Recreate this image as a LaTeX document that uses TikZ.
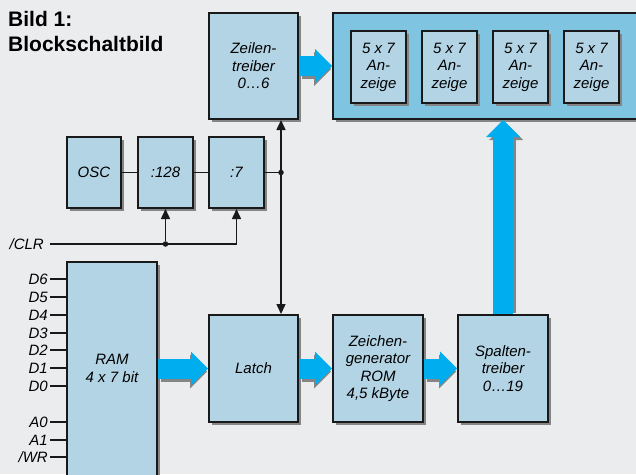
\documentclass[tikz,border=0pt]{standalone}
\usepackage{fontspec}
\setmainfont{Liberation Sans}
\usetikzlibrary{arrows.meta,shadows,calc}
\definecolor{bgc}{HTML}{EBECEE}
\definecolor{boxc}{HTML}{B3D4E5}
\definecolor{dispc}{HTML}{7FC4E1}
\definecolor{arrc}{HTML}{00AEEF}
\definecolor{shc}{HTML}{858585}
\begin{document}
\begin{tikzpicture}[x=1pt,y=-1pt,
  blk/.style={draw=black!90, line width=2pt, fill=boxc, inner sep=0pt, align=center,
    font=\itshape\fontsize{15}{17.5}\selectfont,
    drop shadow={shadow xshift=3pt, shadow yshift=-3pt, fill=shc, opacity=1}},
  txt/.style={inner sep=0pt, align=center, font=\itshape\fontsize{15}{17.5}\selectfont},
  lbl/.style={inner sep=0pt, font=\itshape\fontsize{15}{17.5}\selectfont, text height=10.5pt, text depth=0pt},
  sig/.style={draw=black!90, line width=1.5pt},
  tip/.style={-{Triangle[length=10pt,width=9pt]}},
  fat/.style={draw=arrc, line width=20pt, -{Triangle[length=17pt,width=34pt,line width=0pt]}},
  fatsh/.style={fat, draw=shc},
  dot/.style={circle, fill=black!90, inner sep=0pt, minimum size=5.5pt}]
\fill[bgc] (0,0) rectangle (636,474);
\useasboundingbox (0,0) rectangle (636,474);

\node[anchor=north west, inner sep=0pt, align=left, font=\bfseries\fontsize{21}{25}\selectfont] (title) at (8,11.5) {Bild 1:\\Blockschaltbild};

% blocks
\node[blk, minimum width=89pt, minimum height=106pt] (zt) at (253.5,66) {Zeilen-\\treiber\\0…6};
\node[blk, fill=dispc, minimum width=317pt, minimum height=106pt] (disp) at (491.5,66) {};
\foreach \i/\x in {1/378.5,2/449.5,3/520.5,4/591.5}
  \node[blk, minimum width=55pt, minimum height=72pt] (a\i) at (\x,67) {5 x 7\\An-\\zeige};
\node[blk, minimum width=54pt, minimum height=71pt] (osc) at (94,172.5) {OSC};
\node[blk, minimum width=55pt, minimum height=71pt] (d128) at (165.5,172.5) {:128};
\node[blk, minimum width=55pt, minimum height=71pt] (d7) at (236.5,172.5) {:7};
\node[blk, minimum width=90pt, minimum height=236pt] (ram) at (112,380) {};
\node[blk, minimum width=89pt, minimum height=107pt] (latch) at (253.5,368.5) {Latch};
\node[txt] (ramt) at (ram.center |- latch.center) {RAM\\4 x 7 bit};
\node[blk, minimum width=90pt, minimum height=107pt] (zg) at (378,368.5) {Zeichen-\\generator\\ROM\\4,5 kByte};
\node[blk, minimum width=90pt, minimum height=107pt] (sp) at (503,368.5) {Spalten-\\treiber\\0…19};

% signal lines
\draw[sig] (osc.east) -- (d128.west);
\draw[sig] (d128.east) -- (d7.west);
\coordinate (j) at (281,172.5);
\draw[sig] (d7.east) -- (j);
\node[dot] (jd) at (j) {};
\draw[sig,tip] (j) -- (j |- zt.south);
\draw[sig,tip] (j) -- (j |- latch.north);

\coordinate (clr) at (50,244);
\node[lbl, anchor=east] (clrl) at (44,244) {/CLR};
\draw[sig,tip] (clr) -- (clr -| d7.south) -- (d7.south);
\node[dot] (cd) at (clr -| d128.south) {};
\draw[sig,tip] (cd) -- (d128.south);

% RAM pins
\foreach \k/\n/\y in {1/D6/279,2/D5/297,3/D4/315,4/D3/333,5/D2/350,6/D1/368,7/D0/386,8/A0/422,9/A1/440,10/{/WR}/457}{
  \node[lbl, anchor=east] (p\k) at (48,\y) {\n};
  \coordinate (q\k) at (50,\y);
  \draw[sig] (q\k) -- (ram.west |- q\k);
}

% fat arrows: shadows first, cut at the target box border
\draw[fatsh, shorten >=4pt] ($(zt.east)+(3,3)$) -- ($(disp.west |- zt.east)+(3,3)$);
\draw[fatsh, shorten >=4pt] ($(ram.east |- latch.west)+(3,3)$) -- ($(latch.west)+(3,3)$);
\draw[fatsh, shorten >=4pt] ($(latch.east)+(3,3)$) -- ($(zg.west)+(3,3)$);
\draw[fatsh, shorten >=4pt] ($(zg.east)+(3,3)$) -- ($(sp.west)+(3,3)$);
\draw[fatsh, shorten <=4pt] ($(sp.north)+(3,3)$) -- ($(sp.north |- disp.south)+(3,3)$);
\draw[fat] (zt.east) -- (disp.west |- zt.east);
\draw[fat] (ram.east |- latch.west) -- (latch.west);
\draw[fat] (latch.east) -- (zg.west);
\draw[fat] (zg.east) -- (sp.west);
\draw[fat] (sp.north) -- (sp.north |- disp.south);
\end{tikzpicture}
\end{document}
